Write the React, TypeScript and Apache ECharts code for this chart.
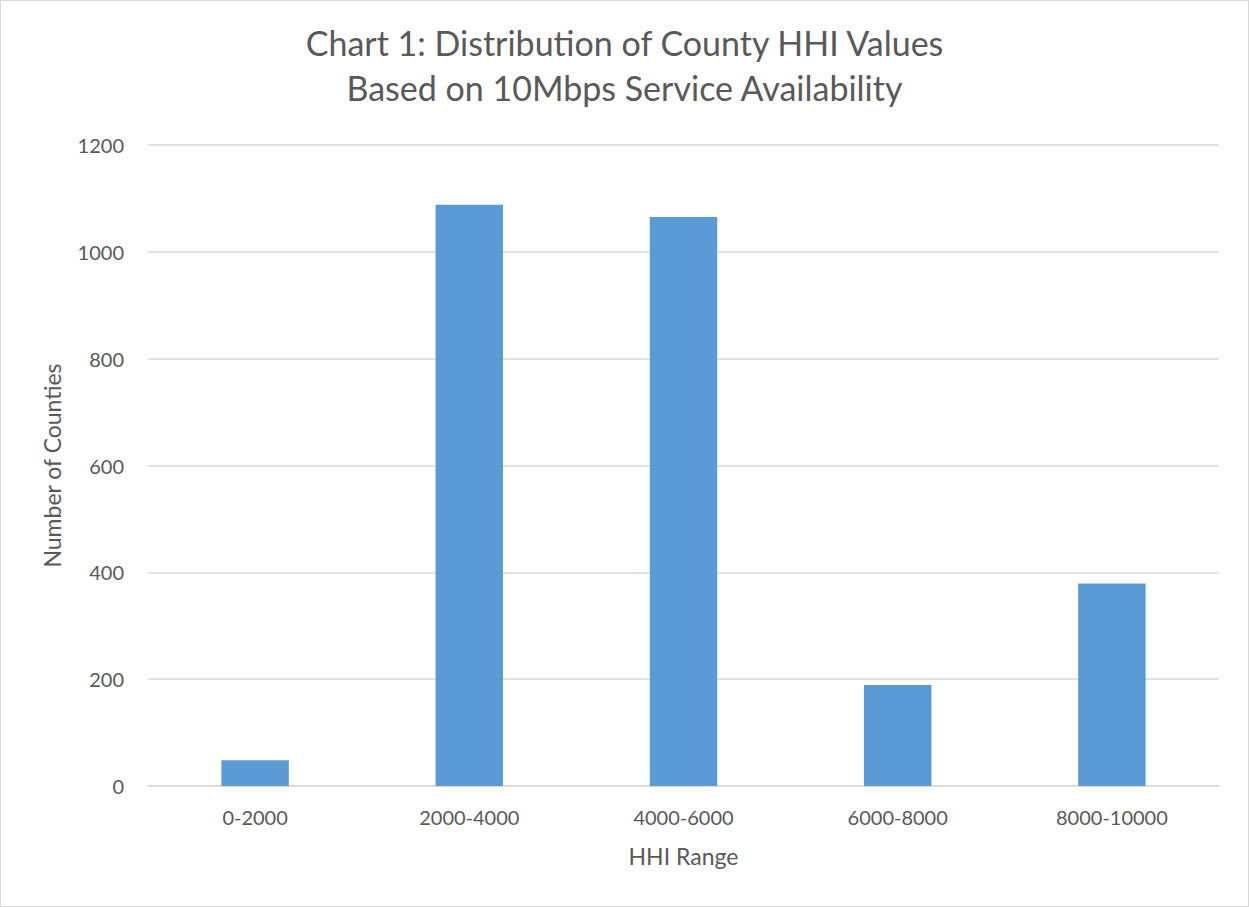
import React, { useEffect, useRef } from "react";
import * as echarts from "echarts";

const categories = ["0-2000", "2000-4000", "4000-6000", "6000-8000", "8000-10000"];
const counts = [48, 1088, 1065, 189, 379];
const yTicks = { min: 0, max: 1200, interval: 200 };

export default function App() {
  const ref = useRef<HTMLDivElement>(null);
  useEffect(() => {
    document.body.style.margin = "0";
    const chart = echarts.init(ref.current!, null, { renderer: "svg" });
    const font = "Lato, 'Open Sans', sans-serif";
    chart.setOption({
      animation: false,
      backgroundColor: "#ffffff",
      title: {
        text: "Chart 1: Distribution of County HHI Values\nBased on 10Mbps Service Availability",
        left: "center",
        top: 14,
        textStyle: {
          fontFamily: font,
          fontSize: 34,
          fontWeight: "normal",
          color: "#595959",
          lineHeight: 45,
        },
      },
      grid: { left: 147, right: 29, top: 144, bottom: 120 },
      xAxis: {
        type: "category",
        data: categories,
        name: "HHI Range",
        nameLocation: "middle",
        nameGap: 58,
        nameTextStyle: { fontFamily: font, fontSize: 23, color: "#595959" },
        axisLine: { lineStyle: { color: "#d9d9d9", width: 1.5 } },
        axisTick: { show: false },
        axisLabel: { fontFamily: font, fontSize: 20, color: "#595959", margin: 21 },
      },
      yAxis: {
        type: "value",
        min: yTicks.min,
        max: yTicks.max,
        interval: yTicks.interval,
        name: "Number of Counties",
        nameLocation: "middle",
        nameGap: 85,
        nameTextStyle: { fontFamily: font, fontSize: 23, color: "#595959" },
        axisLine: { show: false },
        axisTick: { show: false },
        axisLabel: {
          fontFamily: font,
          fontSize: 20,
          color: "#595959",
          margin: 24,
          formatter: (v: number) => String(v),
        },
        splitLine: { lineStyle: { color: "#d9d9d9", width: 1.5 } },
      },
      series: [
        {
          type: "bar",
          data: counts,
          barWidth: "31.5%",
          itemStyle: { color: "#5b9bd5" },
        },
      ],
    });
    return () => chart.dispose();
  }, []);
  return (
    <div
      style={{
        width: 1249,
        height: 907,
        boxSizing: "border-box",
        border: "1.5px solid #d9d9d9",
        background: "#fff",
      }}
    >
      <div ref={ref} style={{ width: "100%", height: "100%" }} />
    </div>
  );
}
